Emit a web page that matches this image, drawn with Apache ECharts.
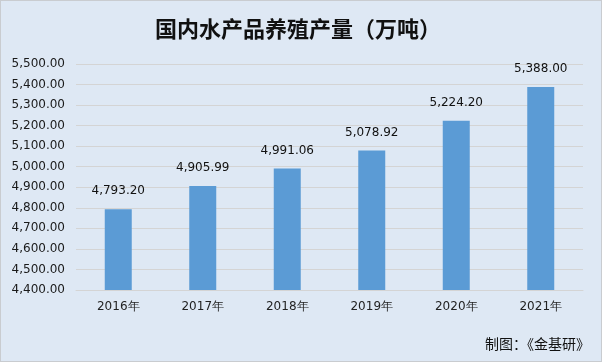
<!DOCTYPE html>
<html><head><meta charset="utf-8">
<script src="https://cdn.jsdelivr.net/npm/echarts@6/dist/echarts.min.js"></script>
<style>html,body{margin:0;padding:0;background:#fff}#c{width:602px;height:362px;box-sizing:border-box;border:1px solid #c9ccd0;background:#dee8f4}</style>
</head><body><div id="c"></div>
<script>
const categories = ['2016年','2017年','2018年','2019年','2020年','2021年'];
const values = [4793.20, 4905.99, 4991.06, 5078.92, 5224.20, 5388.00];
const titleText = '国内水产品养殖产量（万吨）';
const sourceText = '制图：《金基研》';
const fmt = v => Number(v).toLocaleString('en-US',{minimumFractionDigits:2,maximumFractionDigits:2});
const chart = echarts.init(document.getElementById('c'));
chart.setOption({
  animation:false,
  backgroundColor:'#dee8f4',
  title:{text:titleText,left:149,top:12,textStyle:{fontFamily:'Noto Sans CJK SC',fontSize:22,fontWeight:'bold',color:'#111'}},
  graphic:[{type:'text',right:11,top:336,style:{text:sourceText,font:'14px "Noto Sans CJK SC"',fill:'#111'}}],
  grid:{left:75,right:18,top:63,bottom:71},
  xAxis:{type:'category',data:categories,axisTick:{show:false},axisLine:{lineStyle:{color:'#d4d4d4'}},
    axisLabel:{color:'#222',fontSize:12,margin:11,fontFamily:'DejaVu Sans'}},
  yAxis:{type:'value',min:4400,max:5500,interval:100,axisLine:{show:false},axisTick:{show:false},
    splitLine:{lineStyle:{color:'#d4d4d4'}},
    axisLabel:{color:'#1a1a1a',fontSize:12,margin:11,fontFamily:'DejaVu Sans',formatter:v=>fmt(v)}},
  series:[{type:'bar',data:values,barWidth:27,itemStyle:{color:'#5b9bd5'},
    label:{show:true,position:'top',distance:12,color:'#111',fontSize:12,fontFamily:'DejaVu Sans',formatter:p=>fmt(p.value)}}]
});
</script></body></html>
